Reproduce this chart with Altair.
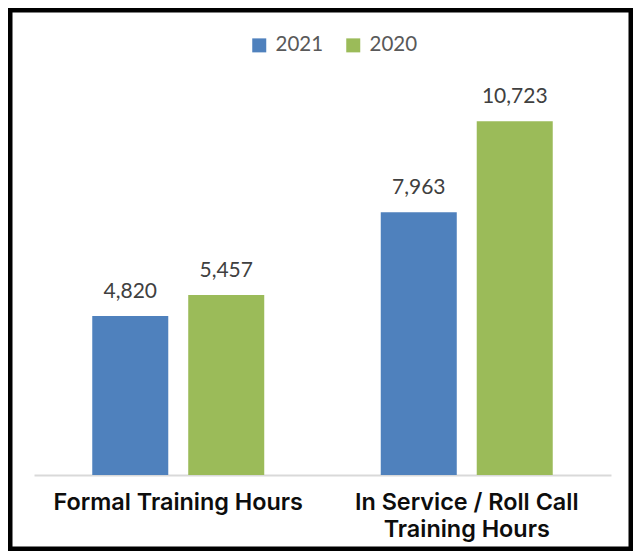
import altair as alt
import pandas as pd

categories = ["Formal Training Hours", "In Service / Roll Call|Training Hours"]
years = ["2021", "2020"]
values_2021 = [4820, 7963]
values_2020 = [5457, 10723]
colors = ["#4F81BD", "#9BBB59"]

rows = []
for i, c in enumerate(categories):
    rows.append({"category": c, "year": "2021", "hours": values_2021[i]})
    rows.append({"category": c, "year": "2020", "hours": values_2020[i]})
df = pd.DataFrame(rows)

W, H = 577, 396

x_enc = alt.X("category:N", sort=categories, title=None,
              scale=alt.Scale(paddingInner=0, paddingOuter=0),
              axis=alt.Axis(labelAngle=0, ticks=False, domainColor="#d9d9d9", domainWidth=2,
                            labelFont="Inter", labelFontWeight=600, labelFontSize=23.4,
                            labelColor="#0d0d0d", labelPadding=16.5, labelLimit=0,
                            labelBaseline="top", labelLineHeight=27,
                            labelExpr="split(datum.label, '|')"))
xo_enc = alt.XOffset("year:N", sort=years,
                     scale=alt.Scale(paddingInner=0.208, paddingOuter=0.607))
y_enc = alt.Y("hours:Q", scale=alt.Scale(domain=[0, 12000]), axis=None)

bars = alt.Chart(df).mark_bar().encode(
    x=x_enc, xOffset=xo_enc, y=y_enc,
    color=alt.Color("year:N", sort=years,
                    scale=alt.Scale(domain=years, range=colors),
                    legend=alt.Legend(title=None, orient="none", direction="horizontal",
                                      legendX=215, legendY=-44, symbolType="square",
                                      symbolSize=196, symbolStrokeWidth=0,
                                      labelFont="Lato", labelFontSize=20.5, labelColor="#595959",
                                      labelOffset=6, columnPadding=19, padding=0)),
)

labels = alt.Chart(df).mark_text(font="Lato", fontSize=21, color="#404040",
                                 baseline="alphabetic", dy=-18).encode(
    x=x_enc, xOffset=xo_enc, y=y_enc,
    text=alt.Text("hours:Q", format=","),
)

frame = alt.Chart(alt.Data(values=[{}])).mark_rect(
    fill=None, stroke="black", strokeWidth=9, cornerRadius=3
).encode(
    x=alt.value(-26), x2=alt.value(599), y=alt.value(-71), y2=alt.value(472)
)

chart = alt.layer(frame, bars, labels).properties(
    width=W, height=H,
    autosize="none",
    padding={"left": 26, "top": 71, "right": 22, "bottom": 76},
    background="white",
).configure_view(stroke=None)

chart.save("out.html", embed_options={"renderer": "svg", "actions": False})
